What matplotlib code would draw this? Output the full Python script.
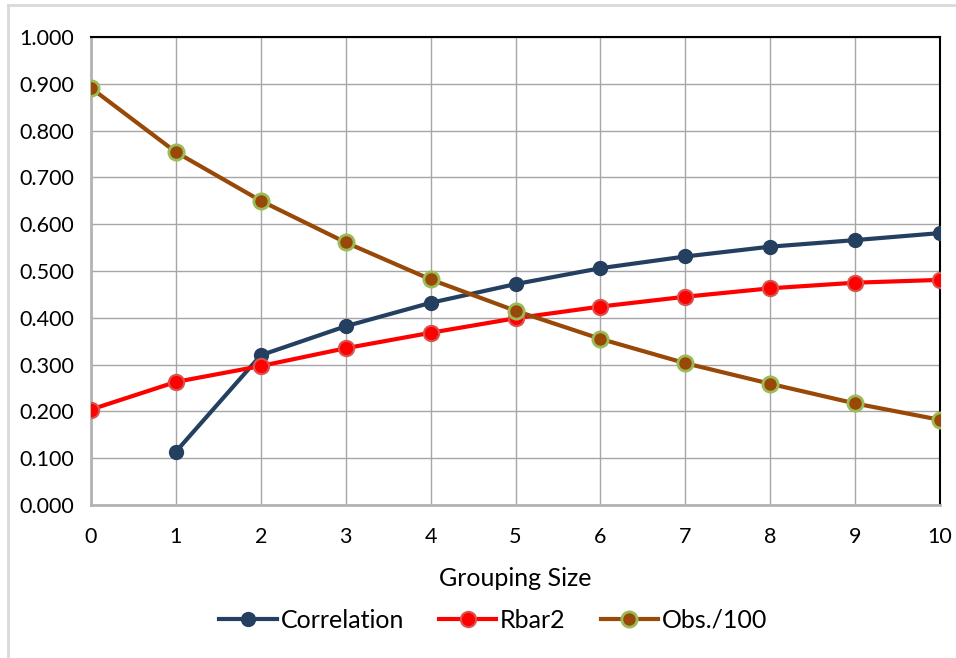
import matplotlib.pyplot as plt
from matplotlib.lines import Line2D

plt.rcParams['font.family'] = ['Lato', 'DejaVu Sans']

# data
group_size = [0, 1, 2, 3, 4, 5, 6, 7, 8, 9, 10]
corr_x = [1, 2, 3, 4, 5, 6, 7, 8, 9, 10]
correlation = [0.114, 0.320, 0.382, 0.432, 0.472, 0.506, 0.531, 0.552, 0.566, 0.581]
rbar2 = [0.204, 0.263, 0.297, 0.335, 0.368, 0.399, 0.424, 0.445, 0.463, 0.475, 0.481]
obs100 = [0.891, 0.754, 0.650, 0.561, 0.482, 0.415, 0.355, 0.303, 0.259, 0.217, 0.182]
yticks = [0.0, 0.1, 0.2, 0.3, 0.4, 0.5, 0.6, 0.7, 0.8, 0.9, 1.0]

fig = plt.figure(figsize=(9.56, 6.58), dpi=100)
ax = fig.add_axes([0.0952, 0.2325, 0.8881, 0.7113])

ax.plot(corr_x, correlation, color='#243f60', lw=3, marker='o', ms=10,
        mfc='#243f60', mec='#243f60', label='Correlation', zorder=3)
ax.plot(group_size, rbar2, color='#ff0000', lw=3, marker='o', ms=11,
        mfc='#ff0000', mec='#d9534f', mew=1.5, label='Rbar2', zorder=4)
ax.plot(group_size, obs100, color='#984807', lw=3, marker='o', ms=11,
        mfc='#984807', mec='#9bbb59', mew=2, label='Obs./100', zorder=5)

ax.set_xlim(0, 10)
ax.set_ylim(0, 1)
ax.set_xticks(group_size)
ax.set_yticks(yticks)
ax.set_yticklabels(['%.3f' % v for v in yticks])
ax.tick_params(axis='both', length=0, labelsize=15.5, colors='black')
ax.tick_params(axis='x', pad=16)
ax.tick_params(axis='y', pad=12)
ax.grid(True, color='#a6a6a6', lw=1)
ax.set_axisbelow(True)

for s in ['top', 'right']:
    ax.spines[s].set_color('black')
    ax.spines[s].set_linewidth(1.5)
for s in ['left', 'bottom']:
    ax.spines[s].set_color('#b3b3b3')
    ax.spines[s].set_linewidth(2)

ax.set_xlabel('Grouping Size', fontsize=18, labelpad=14)

handles = [
    Line2D([], [], color='#243f60', lw=3, marker='o', ms=10, mfc='#243f60', mec='#243f60'),
    Line2D([], [], color='#ff0000', lw=3, marker='o', ms=11, mfc='#ff0000', mec='#d9534f', mew=1.5),
    Line2D([], [], color='#984807', lw=3, marker='o', ms=11, mfc='#984807', mec='#9bbb59', mew=2),
]
fig.legend(handles, ['Correlation', 'Rbar2', 'Obs./100'], loc='center',
           bbox_to_anchor=(0.516, 0.057), ncol=3, frameon=False, fontsize=18,
           handlelength=2.3, columnspacing=1.4, handletextpad=0.15)

# light outer border of the chart box
fig.add_artist(Line2D([8 / 956, 1], [1 - 5 / 658, 1 - 5 / 658], color='#d9d9d9', lw=2))
fig.add_artist(Line2D([8 / 956, 8 / 956], [0, 1 - 5 / 658], color='#d9d9d9', lw=2))

fig.savefig('out.png', dpi=100)
